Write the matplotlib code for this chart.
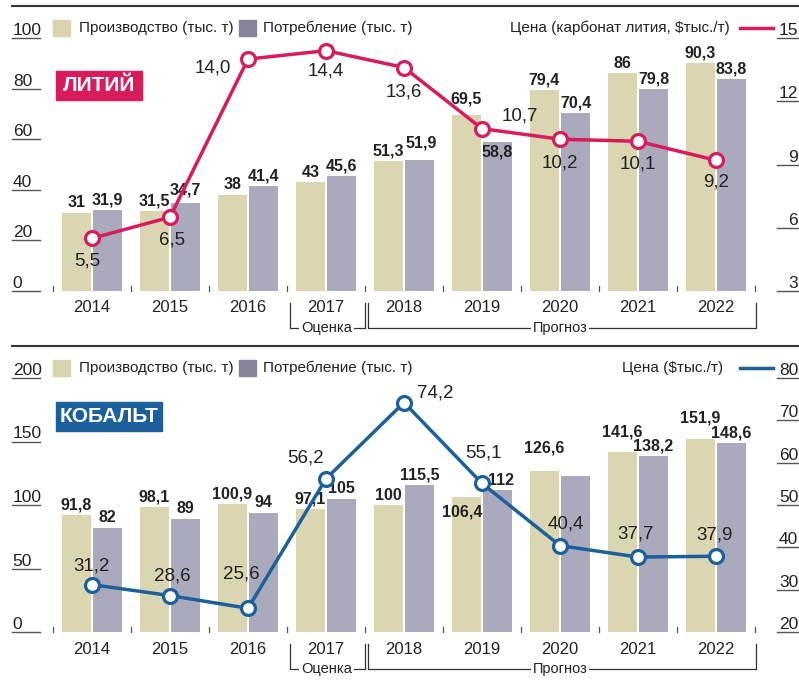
import matplotlib
matplotlib.use("Agg")
import matplotlib.pyplot as plt
from matplotlib.patches import Rectangle

# ---- data ----
years = ["2014", "2015", "2016", "2017", "2018", "2019", "2020", "2021", "2022"]

li_production = [31, 31.5, 38, 43, 51.3, 69.5, 79.4, 86, 90.3]
li_consumption = [31.9, 34.7, 41.4, 45.6, 51.9, 58.8, 70.4, 79.8, 83.8]
li_price = [5.5, 6.5, 14.0, 14.4, 13.6, 10.7, 10.2, 10.1, 9.2]

co_production = [91.8, 98.1, 100.9, 97.1, 100, 106.4, 126.6, 141.6, 151.9]
co_consumption = [82, 89, 94, 105, 115.5, 112, 123, 138.2, 148.6]
co_price = [31.2, 28.6, 25.6, 56.2, 74.2, 55.1, 40.4, 37.7, 37.9]

li_left_ticks = [0, 20, 40, 60, 80, 100]
li_right_ticks = [3, 6, 9, 12, 15]
co_left_ticks = [0, 50, 100, 150, 200]
co_right_ticks = [20, 30, 40, 50, 60, 70, 80]

# ---- style ----
W, H = 799, 686
PROD = "#d9d6b1"
CONS = "#abaabc"
PROD_LEG = "#d8d4ae"
CONS_LEG = "#86849b"
LI_COL = "#d81b5b"
CO_COL = "#1b5f9b"
TXT = "#222222"
NARROW = ["Liberation Sans Narrow", "Liberation Sans", "DejaVu Sans"]

plt.rcParams["font.family"] = ["Liberation Sans", "DejaVu Sans"]

fig = plt.figure(figsize=(W / 100, H / 100), dpi=100)


def fx(px):
    return px / W


def fy(py):
    return 1 - py / H


def fmt(v):
    s = f"{v:g}"
    return s.replace(".", ",")


def fmt1(v):
    return f"{v:.1f}".replace(".", ",")


def panel(y_top, y_base, ymax, pmin, pmax, prod, cons, price, color,
          left_ticks, right_ticks, prod_off, cons_off, price_off,
          cons_hidden=()):
    # axes span the full figure width; x = category index
    ax = fig.add_axes([0, fy(y_base), 1, (y_base - y_top) / H])
    ax.set_xlim(-92 / 78, (W - 92) / 78)
    ax.set_ylim(0, ymax)
    ax.set_axis_off()
    ppx = ymax / (y_base - y_top)  # data units per pixel

    x = range(len(years))
    bw = 0.372
    xp = [i - 0.2 for i in x]
    xc = [i + 0.2 for i in x]
    ax.bar(xp, prod, width=bw, color=PROD, zorder=2)
    ax.bar(xc, cons, width=bw, color=CONS, zorder=2)

    for i, v in enumerate(prod):
        dx, dy = prod_off.get(i, (0, 10))
        ax.annotate(fmt(v), (xp[i], v), xytext=(dx, dy), textcoords="offset pixels",
                    ha="center", va="center", fontsize=11.5, fontweight="bold",
                    color=TXT, zorder=5, annotation_clip=False)
    for i, v in enumerate(cons):
        if i in cons_hidden:
            continue
        dx, dy = cons_off.get(i, (0, 10))
        ax.annotate(fmt(v), (xc[i], v), xytext=(dx, dy), textcoords="offset pixels",
                    ha="center", va="center", fontsize=11.5, fontweight="bold",
                    color=TXT, zorder=5, annotation_clip=False)

    # baseline ticks between groups
    for b in range(len(years) + 1):
        ax.plot([b - 0.5, b - 0.5], [0, 5 * ppx], color="#555555", lw=0.9,
                clip_on=False, zorder=3)

    # year labels
    for i, yr in enumerate(years):
        ax.annotate(yr, (i, 0), xytext=(0, -17), textcoords="offset pixels",
                    ha="center", va="center", fontsize=12, family=NARROW,
                    color=TXT, annotation_clip=False)

    # brackets: Оценка / Прогноз
    yt, yb = -12 * ppx, -37 * ppx
    bk = dict(color="#333333", lw=0.9, clip_on=False, zorder=3)
    ax.plot([2.54, 2.54, 3.5, 3.5], [yt, yb, yb, yt], **bk)
    ax.plot([3.54, 3.54, 8.51, 8.51], [yt, yb, yb, yt], **bk)
    box = dict(facecolor="white", edgecolor="none", pad=1.5)
    ax.text(3.01, yb, "Оценка", ha="center", va="center", fontsize=10.5,
            family=NARROW, color=TXT, bbox=box, zorder=4)
    ax.text(6.0, yb, "Прогноз", ha="center", va="center", fontsize=10.5,
            family=NARROW, color=TXT, bbox=box, zorder=4)

    # left value axis
    tr = ax.get_yaxis_transform()
    for t in left_ticks:
        ax.plot([0.015, 0.05], [t, t], transform=tr, color="#555555", lw=1,
                clip_on=False)
        ax.annotate(str(t), (0.016, t), xycoords=tr, xytext=(0, 3),
                    textcoords="offset pixels", ha="left", va="baseline",
                    fontsize=12.5, family=NARROW, color=TXT, annotation_clip=False)

    # price on the right axis
    ax2 = ax.twinx()
    ax2.set_ylim(pmin, pmax)
    ax2.set_axis_off()
    tr2 = ax2.get_yaxis_transform()
    for t in right_ticks:
        ax2.plot([0.972, 1.0], [t, t], transform=tr2, color="#555555", lw=1,
                 clip_on=False)
        ax2.annotate(str(t), (0.999, t), xycoords=tr2, xytext=(0, 3),
                     textcoords="offset pixels", ha="right", va="baseline",
                     fontsize=12.5, family=NARROW, color=TXT, annotation_clip=False)

    ax2.plot(list(x), price, color=color, lw=2.5, marker="o", ms=10,
             mfc="white", mec=color, mew=2.3, zorder=6, clip_on=False)
    for i, v in enumerate(price):
        dx, dy = price_off.get(i, (0, -23))
        ax2.annotate(fmt1(v), (i, v), xytext=(dx, dy), textcoords="offset pixels",
                     ha="center", va="center", fontsize=13.5, color=TXT,
                     zorder=7, annotation_clip=False)
    return ax, ax2


def legend_row(yc, price_text, color, price_right):
    fig.patches.append(Rectangle((fx(53), fy(yc + 8)), 17 / W, 16 / H,
                                 transform=fig.transFigure, color=PROD_LEG))
    fig.text(fx(79), fy(yc), "Производство (тыс. т)", ha="left", va="center",
             fontsize=11, family=NARROW, color=TXT)
    fig.patches.append(Rectangle((fx(239), fy(yc + 8)), 17 / W, 16 / H,
                                 transform=fig.transFigure, color=CONS_LEG))
    fig.text(fx(263), fy(yc), "Потребление (тыс. т)", ha="left", va="center",
             fontsize=11, family=NARROW, color=TXT)
    fig.text(fx(price_right), fy(yc), price_text, ha="right", va="center",
             fontsize=11, family=NARROW, color=TXT)
    fig.add_artist(plt.Line2D([fx(740), fx(773)], [fy(yc), fy(yc)],
                              transform=fig.transFigure, color=color, lw=2.5))


def tag(x0, y0, x1, y1, text, color):
    fig.patches.append(Rectangle((fx(x0), fy(y1)), (x1 - x0) / W, (y1 - y0) / H,
                                 transform=fig.transFigure, color=color))
    fig.text(fx((x0 + x1) / 2), fy((y0 + y1) / 2), text, ha="center", va="center",
             fontsize=15, fontweight="bold", family=NARROW, color="white")


# separators
for yy in (6, 346):
    fig.add_artist(plt.Line2D([fx(12), 1], [fy(yy), fy(yy)],
                              transform=fig.transFigure, color="#333333", lw=1.5))

# ---- lithium ----
panel(38, 291, 100, 3, 15, li_production, li_consumption, li_price, LI_COL,
      li_left_ticks, li_right_ticks,
      prod_off={5: (0, 16)},
      cons_off={1: (0, 13), 4: (2, 17), 5: (0, -10)},
      price_off={0: (-5, -23), 1: (2, -23), 2: (-35, -9), 3: (0, -20),
                 4: (0, -24), 5: (38, 13), 6: (0, -24), 7: (0, -23), 8: (0, -22)})
legend_row(28, "Цена (карбонат лития, $тыс./т)", LI_COL, 730)
tag(56, 71, 142, 100, "ЛИТИЙ", LI_COL)

# ---- cobalt ----
panel(378, 632, 200, 20, 80, co_production, co_consumption, co_price, CO_COL,
      co_left_ticks, co_right_ticks,
      prod_off={5: (-4, -15), 6: (0, 23), 7: (0, 20), 8: (0, 21)},
      cons_off={5: (3, 9)},
      price_off={0: (0, 19), 1: (2, 20), 2: (-7, 34), 3: (-20, 21), 4: (31, 10),
                 5: (1, 30), 6: (6, 22), 7: (-2, 23), 8: (-1, 21)},
      cons_hidden=(6,))
legend_row(368, "Цена ($тыс./т)", CO_COL, 723)
tag(56, 402, 162, 431, "КОБАЛЬТ", CO_COL)

fig.savefig("out.png", dpi=100)
